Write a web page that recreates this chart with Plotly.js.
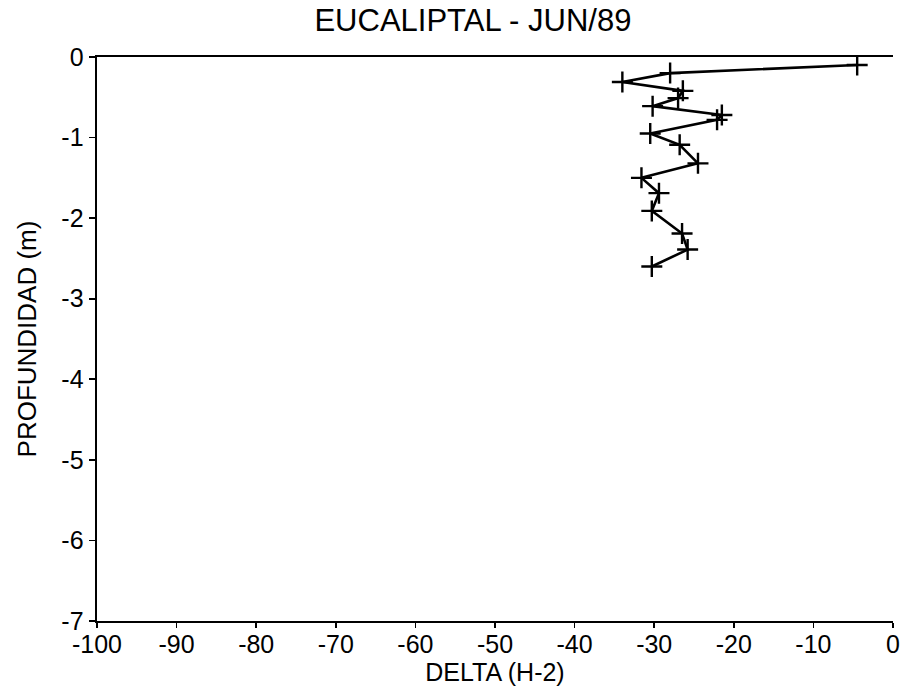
<!DOCTYPE html>
<html>
<head>
<meta charset="utf-8">
<script src="https://cdn.plot.ly/plotly-3.0.1.min.js"></script>
<style>html,body{margin:0;padding:0;background:#fff;}#chart{width:906px;height:693px;}</style>
</head>
<body>
<div id="chart"></div>
<script>
// Data
const delta = [-4.5, -28.0, -34.0, -26.4, -27.0, -30.2, -21.5, -22.1, -30.5, -26.8, -24.5, -31.6, -29.4, -30.3, -26.5, -25.8, -30.3];
const profundidad = [-0.10, -0.20, -0.31, -0.42, -0.51, -0.61, -0.72, -0.78, -0.95, -1.09, -1.32, -1.50, -1.69, -1.91, -2.19, -2.39, -2.60];
const xTicks = [-100, -90, -80, -70, -60, -50, -40, -30, -20, -10, 0];
const yTicks = [0, -1, -2, -3, -4, -5, -6, -7];

const font = 'Liberation Sans, Arial, Helvetica, sans-serif';

const trace = {
  x: delta, y: profundidad, type: 'scatter', mode: 'lines+markers',
  line: {color: '#000', width: 2.6},
  marker: {symbol: 'cross-thin-open', size: 15, color: '#000', line: {color: '#000', width: 2.4}},
  hoverinfo: 'skip', showlegend: false
};

const layout = {
  width: 906, height: 693,
  margin: {l: 97, r: 13, t: 57, b: 72},
  paper_bgcolor: '#fff', plot_bgcolor: '#fff',
  font: {family: font, color: '#000'},
  title: {text: 'EUCALIPTAL - JUN/89', font: {size: 31, family: font, color: '#000'}, x: 0.522, xanchor: 'center', y: 0.986, yanchor: 'top'},
  xaxis: {
    range: [-100, 0], tickvals: xTicks, ticktext: xTicks.map(String),
    showgrid: false, zeroline: false, showline: true, linecolor: '#000', linewidth: 2.4, mirror: true,
    ticks: 'outside', ticklen: 5, tickwidth: 1.6, tickcolor: '#000', ticklabelstandoff: -5,
    tickfont: {size: 25, family: font, color: '#000'},
    title: {text: 'DELTA (H-2)', font: {size: 25, family: font, color: '#000'}, standoff: 1}
  },
  yaxis: {
    range: [-7, 0], tickvals: yTicks, ticktext: yTicks.map(String),
    showgrid: false, zeroline: false, showline: true, linecolor: '#000', linewidth: 2.4,
    ticks: 'outside', ticklen: 6, tickwidth: 1.6, tickcolor: '#000',
    tickfont: {size: 25, family: font, color: '#000'},
    title: {text: 'PROFUNDIDAD (m)', font: {size: 26, family: font, color: '#000'}, standoff: 17}
  }
};

Plotly.newPlot('chart', [trace], layout, {staticPlot: true, displayModeBar: false});
</script>
</body>
</html>
